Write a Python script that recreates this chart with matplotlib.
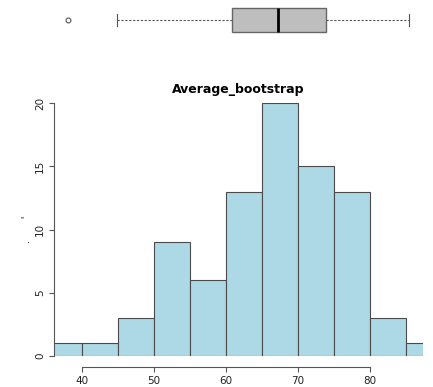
import numpy as np
import matplotlib
matplotlib.use("Agg")
import matplotlib.pyplot as plt

# histogram bins (left edges, width 5) and counts
bin_left = [35, 40, 45, 50, 55, 60, 65, 70, 75, 80, 85]
counts = [1, 1, 3, 9, 6, 13, 20, 15, 13, 3, 1]
bin_width = 5

# boxplot summary
box_q1, box_med, box_q3 = 60.8, 67.2, 73.9
whisk_lo, whisk_hi = 44.9, 85.4
outliers = [38.1]

xticks = [40, 50, 60, 70, 80]
yticks = [0, 5, 10, 15, 20]

W, H = 433, 387
fig = plt.figure(figsize=(W / 100, H / 100), dpi=100)

def frac(l, r, top, bottom):
    return [l / W, 1 - bottom / H, (r - l) / W, (bottom - top) / H]

xlim = (36.1, 87.4)
axcol = "#555555"

# boxplot strip
ax2 = fig.add_axes(frac(54, 423, 0, 40))
stats = [dict(med=box_med, q1=box_q1, q3=box_q3, whislo=whisk_lo,
              whishi=whisk_hi, fliers=outliers)]
ax2.bxp(stats, positions=[0.5], widths=0.6, vert=False, patch_artist=True,
        boxprops=dict(facecolor="#bebebe", edgecolor="#666666", lw=1),
        medianprops=dict(color="black", lw=2),
        whiskerprops=dict(color="#555555", lw=0.8, ls=(0, (2, 1.5))),
        capprops=dict(color="#555555", lw=0.8),
        flierprops=dict(marker="o", markersize=3.5, markerfacecolor="none",
                        markeredgecolor="#555555", markeredgewidth=0.8),
        capwidths=0.3)
ax2.set_xlim(*xlim)
ax2.set_ylim(0, 1)
ax2.axis("off")

# histogram
ax = fig.add_axes(frac(54, 423, 103, 356))
ax.bar(bin_left, counts, width=bin_width, align="edge", color="#add8e6",
       edgecolor="#4a4a4a", linewidth=0.8)
ax.set_xlim(*xlim)
ax.set_ylim(0, 20)
for s in ["top", "right"]:
    ax.spines[s].set_visible(False)
ax.spines["bottom"].set_position(("outward", 8))
ax.spines["bottom"].set_bounds(40, 80)
ax.spines["left"].set_bounds(0, 20)
for s in ["bottom", "left"]:
    ax.spines[s].set_color(axcol)
    ax.spines[s].set_linewidth(0.8)
ax.set_xticks(xticks)
ax.set_yticks(yticks)
ax.tick_params(colors=axcol, labelcolor="#222222", labelsize=7.5, length=3.8, width=0.8, pad=2.5)
plt.setp(ax.get_yticklabels(), rotation=90, va="center")
ax.set_ylabel(".       '", fontsize=7, labelpad=2)
ax.set_title("Average_bootstrap", fontsize=9, fontweight="bold", pad=7.5)

fig.savefig("out.png", dpi=100)
